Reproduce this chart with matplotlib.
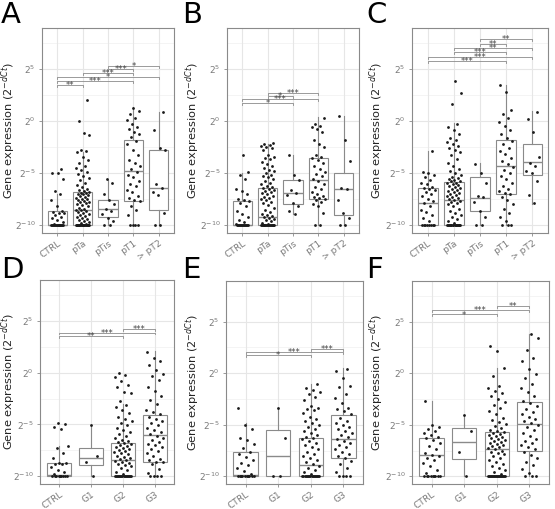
import matplotlib
matplotlib.use("Agg")
import matplotlib.pyplot as plt

# values are log2 expression (exponent of 2^-dCt)
TUMOUR_STAGES = ["CTRL", "pTa", "pTis", "pT1", "> pT2"]
GRADES = ["CTRL", "G1", "G2", "G3"]

# ---- panel A ----
A_CTRL = [-10, -10, -10, -10, -10, -10, -10, -10, -10, -10, -10, -10, -10, -10,
          -9.9, -9.7, -9.5, -9.3, -9.2, -9.0, -8.8, -8.8, -8.7, -8.6, -8.2, -7.6,
          -7.0, -6.7, -5.6, -5.0, -5.0, -4.6]
A_pTa = [-10, -10, -10, -10, -10, -10, -10, -10, -10, -10, -10, -10, -10, -10, -10,
         -10, -10, -10, -9.9, -9.8, -9.7, -9.6, -9.5, -9.4, -9.3, -9.2, -9.1, -9.0,
         -8.9, -8.8, -8.7, -8.6, -8.5, -8.5, -8.4, -8.3, -8.2, -8.1, -8.0, -7.9, -7.8,
         -7.8, -7.7, -7.6, -7.5, -7.5, -7.4, -7.3, -7.2, -7.1, -7.0, -7.0, -6.9, -6.9,
         -6.8, -6.7, -6.6, -6.5, -6.3, -6.1, -5.9, -5.7, -5.5, -5.3, -5.1, -4.9, -4.7,
         -4.5, -4.3, -4.0, -3.7, -3.4, -3.0, -2.9, -2.8, -1.3, -1.1, 0.0, 2.0]
A_pTis = [-10, -10, -9.6, -9.3, -8.9, -8.6, -8.4, -8.0, -7.6, -7.0, -5.9, -5.6]
A_pT1 = [-10, -10, -10, -10, -9.0, -8.5, -8.2, -7.7, -7.6, -7.4, -7.2, -6.8, -6.6,
         -6.2, -6.0, -5.8, -5.4, -5.2, -4.9, -4.6, -4.3, -4.0, -3.7, -3.3, -2.8, -2.2,
         -1.9, -1.5, -1.2, -1.0, -0.8, -0.6, -0.3, 0.1, 0.3, 0.7, 1.0, 1.3]
A_pT2 = [-10, -10, -8.8, -7.1, -6.8, -6.4, -6.0, -2.8, -2.6, -0.9, 0.9]
A_Q1 = [-10, -10, -9.2, -7.64, -8.5]
A_MED = [-9.95, -8.57, -8.44, -4.84, -6.43]
A_Q3 = [-8.66, -6.85, -7.55, -1.82, -2.77]
A_LO = [-10, -10, -10, -10, -10]
A_HI = [-7.0, -2.93, -5.64, 1.37, 0.9]
A_SIG = [(1, 2, 3.48, "**"), (1, 4, 3.89, "***"), (1, 5, 4.21, "*"),
         (2, 4, 4.59, "***"), (3, 4, 4.97, "***"), (3, 5, 5.31, "*")]

# ---- panel B ----
B_CTRL = [-10, -10, -10, -10, -10, -10, -10, -10, -10, -10, -10, -10, -9.9, -9.7,
          -9.5, -9.2, -8.9, -8.6, -8.2, -7.9, -7.7, -7.6, -7.5, -7.0, -6.7, -6.5,
          -5.6, -5.2, -4.9, -3.3]
B_pTa = [-10, -10, -10, -10, -10, -10, -10, -10, -10, -10, -10, -10, -10, -10, -10,
         -10, -9.9, -9.8, -9.6, -9.5, -9.4, -9.3, -9.2, -9.1, -9.0, -8.9, -8.7, -8.5,
         -8.3, -8.1, -7.9, -7.8, -7.6, -7.5, -7.4, -7.3, -7.2, -7.0, -6.9, -6.8, -6.7,
         -6.6, -6.5, -6.4, -6.3, -6.2, -6.0, -5.9, -5.8, -5.6, -5.4, -5.3, -5.2, -5.0,
         -4.8, -4.7, -4.5, -4.3, -4.1, -3.9, -3.6, -3.5, -3.4, -3.3, -2.8, -2.6, -2.5,
         -2.4, -2.3, -2.2, -2.1]
B_pTis = [-8.9, -8.6, -8.2, -7.9, -7.1, -6.9, -6.6, -5.7, -5.2, -3.3]
B_pT1 = [-10, -10, -8.8, -8.2, -8.0, -7.8, -7.6, -7.5, -7.4, -7.3, -7.2, -7.0, -6.8,
         -6.5, -6.3, -6.0, -5.8, -5.6, -5.3, -5.1, -4.9, -4.6, -4.3, -4.0, -3.7, -3.5,
         -3.4, -3.3, -2.5, -2.2, -1.8, -1.0, -0.8, -0.6, -0.5, -0.3, 0.3]
B_pT2 = [-10, -10, -9.3, -8.8, -7.6, -6.5, -6.4, -3.8, -1.8, 0.5]
B_Q1 = [-10, -10, -7.98, -7.53, -9.04]
B_MED = [-9.94, -9.26, -6.89, -5.67, -6.54]
B_Q3 = [-7.66, -6.38, -5.67, -3.59, -5.03]
B_LO = [-10, -10, -8.88, -10, -10]
B_HI = [-4.94, -2.15, -3.27, 0.35, 0.48]
B_SIG = [(1, 3, 1.76, "*"), (1, 4, 2.09, "***"), (2, 3, 2.40, "*"),
         (2, 4, 2.72, "***")]

# ---- panel C ----
C_CTRL = [-10, -10, -10, -10, -10, -10, -10, -10, -9.6, -9.3, -9.0, -8.7, -8.5, -8.2,
          -7.9, -7.7, -7.5, -7.2, -7.0, -6.8, -6.6, -6.5, -6.4, -6.3, -6.0, -5.9, -5.7,
          -5.4, -5.2, -5.0, -4.9, -2.9]
C_pTa = [-10, -10, -10, -10, -10, -10, -10, -10, -10, -10, -10, -10, -10, -10, -10,
         -10, -9.8, -9.6, -9.4, -9.2, -9.0, -8.8, -8.6, -8.4, -8.2, -8.0, -7.9, -7.8,
         -7.7, -7.6, -7.5, -7.4, -7.3, -7.2, -7.1, -7.0, -6.9, -6.8, -6.7, -6.6, -6.5,
         -6.4, -6.3, -6.2, -6.1, -6.0, -5.9, -5.9, -5.8, -5.8, -5.7, -5.6, -5.5, -5.4,
         -5.2, -5.0, -4.8, -4.6, -4.3, -4.0, -3.6, -3.3, -3.0, -2.8, -2.6, -2.4, -2.2,
         -2.0, -1.8, -1.6, -1.2, -0.9, -0.6, -0.3, 1.6, 2.7, 3.9]
C_pTis = [-10, -10, -9.2, -8.6, -7.8, -7.3, -7.2, -5.9, -5.0, -4.1]
C_pT1 = [-10, -10, -10, -9.6, -9.2, -8.8, -8.4, -8.0, -7.6, -7.3, -7.0, -6.9, -6.7,
         -6.5, -6.2, -5.9, -5.6, -5.3, -5.0, -4.7, -4.4, -4.1, -3.8, -3.5, -3.2, -2.9,
         -2.6, -2.2, -1.9, -1.6, -1.2, -0.9, -0.5, -0.1, 0.3, 0.7, 1.1, 2.8, 3.5]
C_pT2 = [-7.9, -7.1, -5.8, -5.0, -4.8, -4.3, -4.0, -3.4, -1.0, 0.2, 0.9]
C_Q1 = [-10, -10, -8.65, -6.96, -5.13]
C_MED = [-7.85, -7.6, -7.34, -4.33, -3.97]
C_Q3 = [-6.38, -5.83, -5.35, -1.83, -2.15]
C_LO = [-10, -10, -10, -10, -7.92]
C_HI = [-2.85, -0.22, -4.07, 3.46, 0.99]
C_SIG = [(1, 4, 5.77, "***"), (1, 5, 6.19, "***"), (2, 4, 6.60, "***"),
         (2, 5, 7.02, "**"), (3, 4, 7.44, "**"), (3, 5, 7.85, "**")]

# ---- panel D ----
D_CTRL = [-10, -10, -10, -10, -10, -10, -10, -10, -10, -9.8, -9.6, -9.4, -9.1, -8.8,
          -8.8, -8.7, -8.7, -8.2, -7.8, -7.3, -7.1, -5.4, -5.2, -5.0, -4.9]
D_G1 = [-10, -8.6, -8.0, -5.1]
D_G2 = [-10, -10, -10, -10, -10, -10, -10, -10, -10, -10, -10, -10, -10, -10, -10,
        -10, -9.8, -9.6, -9.4, -9.2, -9.0, -8.9, -8.8, -8.7, -8.6, -8.5, -8.4, -8.3,
        -8.2, -8.1, -8.0, -7.9, -7.8, -7.7, -7.6, -7.5, -7.4, -7.3, -7.2, -7.1, -7.0,
        -6.9, -6.8, -6.7, -6.6, -6.5, -6.3, -6.1, -5.9, -5.7, -5.5, -5.3, -5.1, -4.9,
        -4.7, -4.5, -4.3, -3.9, -3.6, -3.3, -3.1, -2.7, -2.0, -1.9, -1.4, -1.2, -0.8,
        -0.4, -0.2, 0.0]
D_G3 = [-10, -10, -10, -10, -9.7, -9.3, -8.8, -8.6, -8.6, -8.4, -8.3, -8.0, -7.8,
        -7.6, -7.4, -7.2, -7.0, -6.9, -6.7, -6.5, -6.3, -6.1, -5.9, -5.7, -5.5, -5.3,
        -5.1, -4.9, -4.7, -4.5, -4.3, -4.0, -3.8, -3.6, -3.0, -2.6, -2.3, -1.8, -1.4,
        -0.7, -0.3, -0.1, 0.3, 0.7, 1.1, 1.4, 2.0]
D_Q1 = [-10, -8.94, -10, -8.62]
D_MED = [-9.9, -8.24, -8.46, -6.06]
D_Q3 = [-8.72, -7.24, -6.8, -4.13]
D_LO = [-10, -10, -10, -10]
D_HI = [-7.12, -5.1, -3.01, 2.05]
D_SIG = [(1, 3, 3.53, "**"), (1, 4, 3.88, "***"), (3, 4, 4.23, "***")]

# ---- panel E ----
E_CTRL = [-10, -10, -10, -10, -10, -10, -10, -10, -10, -10, -9.8, -9.5, -9.2, -8.9,
          -8.7, -8.4, -8.1, -7.8, -7.6, -7.3, -6.9, -6.5, -6.3, -5.4, -5.0, -3.4]
E_G1 = [-10, -10, -6.3, -3.4]
E_G2 = [-10, -10, -10, -10, -10, -10, -10, -10, -10, -10, -10, -10, -10, -10, -10,
        -10, -9.8, -9.6, -9.4, -9.2, -9.0, -8.8, -8.6, -8.4, -8.2, -8.0, -7.8, -7.6,
        -7.4, -7.2, -7.0, -6.8, -6.6, -6.4, -6.3, -6.2, -6.0, -5.8, -5.6, -5.4, -5.2,
        -5.0, -4.8, -4.6, -4.4, -4.2, -3.9, -3.6, -3.5, -3.4, -3.2, -2.6, -2.3, -2.0,
        -1.8, -1.6, -1.4, -1.0]
E_G3 = [-10, -10, -10, -10, -9.6, -9.2, -8.8, -8.5, -8.2, -8.0, -7.8, -7.6, -7.4,
        -7.2, -7.0, -6.8, -6.6, -6.4, -6.2, -6.0, -5.8, -5.6, -5.4, -5.2, -5.0, -4.8,
        -4.6, -4.3, -4.0, -3.7, -3.5, -3.4, -2.9, -2.4, -2.0, -1.3, -1.2, -0.5, 0.2,
        0.4]
E_Q1 = [-10, -10, -10, -8.21]
E_MED = [-9.9, -8.02, -8.95, -6.39]
E_Q3 = [-7.67, -5.5, -6.33, -4.09]
E_LO = [-10, -10, -10, -10]
E_HI = [-4.86, -3.42, -1.05, 0.48]
E_SIG = [(1, 3, 1.74, "*"), (1, 4, 2.09, "***"), (3, 4, 2.38, "***")]

# ---- panel F ----
F_CTRL = [-10, -10, -10, -10, -10, -10, -10, -10, -10, -9.7, -9.4, -9.0, -8.7, -8.4,
          -8.2, -8.0, -7.9, -7.7, -7.4, -7.1, -6.8, -6.5, -6.3, -6.2, -6.0, -5.8, -5.6,
          -5.4, -5.2, -5.0, -2.7]
F_G1 = [-10, -7.6, -5.6, -4.1]
F_G2 = [-10, -10, -10, -10, -10, -10, -10, -10, -10, -10, -10, -10, -10, -10, -10,
        -10, -10, -10, -9.8, -9.6, -9.4, -9.2, -9.0, -8.8, -8.6, -8.4, -8.2, -8.0,
        -7.8, -7.7, -7.6, -7.5, -7.4, -7.3, -7.2, -7.1, -7.0, -6.9, -6.8, -6.7, -6.6,
        -6.5, -6.4, -6.3, -6.2, -6.1, -6.0, -5.9, -5.8, -5.7, -5.6, -5.5, -5.3, -5.1,
        -4.9, -4.7, -4.5, -4.3, -4.0, -3.7, -3.4, -3.1, -2.8, -2.5, -2.2, -1.9, -1.7,
        -1.4, -1.2, -0.3, 0.5, 2.2, 2.6]
F_G3 = [-10, -10, -10, -9.7, -9.3, -8.9, -8.6, -8.2, -7.9, -7.6, -7.4, -7.2, -7.0,
        -6.8, -6.6, -6.4, -6.1, -5.8, -5.5, -5.2, -5.0, -4.8, -4.6, -4.4, -4.2, -4.0,
        -3.8, -3.5, -3.2, -2.9, -2.7, -2.2, -1.8, -1.4, -1.0, -0.5, -0.1, 0.4, 1.2,
        1.5, 2.3, 3.4, 3.8]
F_Q1 = [-10, -8.37, -10, -7.54]
F_MED = [-7.92, -6.71, -7.35, -4.89]
F_Q3 = [-6.33, -5.27, -5.75, -2.78]
F_LO = [-10, -10, -10, -10]
F_HI = [-2.71, -4.09, 0.48, 3.83]
F_SIG = [(1, 3, 5.70, "*"), (1, 4, 6.12, "***"), (3, 4, 6.53, "**")]

Y_TICKS = [-10, -5, 0, 5]
Y_TICK_LABELS = [r"$2^{-10}$", r"$2^{-5}$", r"$2^{0}$", r"$2^{5}$"]

GREY = "#8a8a8a"
TEXT_GREY = "#7a7a7a"

# (letter, categories, points, q1, med, q3, lo, hi, sig,
#  axes rect in px, ylabel right edge x in px, letter x in px, letter top y in px)
PANELS = [
    ("A", TUMOUR_STAGES, [A_CTRL, A_pTa, A_pTis, A_pT1, A_pT2],
     A_Q1, A_MED, A_Q3, A_LO, A_HI, A_SIG, (42, 28, 174, 233), 18, 1, 1),
    ("B", TUMOUR_STAGES, [B_CTRL, B_pTa, B_pTis, B_pT1, B_pT2],
     B_Q1, B_MED, B_Q3, B_LO, B_HI, B_SIG, (227, 28, 359, 233), 202, 182, 1),
    ("C", TUMOUR_STAGES, [C_CTRL, C_pTa, C_pTis, C_pT1, C_pT2],
     C_Q1, C_MED, C_Q3, C_LO, C_HI, C_SIG, (412, 28, 548, 233), 386, 366, 1),
    ("D", GRADES, [D_CTRL, D_G1, D_G2, D_G3],
     D_Q1, D_MED, D_Q3, D_LO, D_HI, D_SIG, (40, 280, 174, 484), 18, 1, 256),
    ("E", GRADES, [E_CTRL, E_G1, E_G2, E_G3],
     E_Q1, E_MED, E_Q3, E_LO, E_HI, E_SIG, (226, 281, 363, 484), 202, 182, 256),
    ("F", GRADES, [F_CTRL, F_G1, F_G2, F_G3],
     F_Q1, F_MED, F_Q3, F_LO, F_HI, F_SIG, (412, 281, 549, 484), 386, 366, 256),
]

W, H = 555, 509
fig = plt.figure(figsize=(W / 100, H / 100), dpi=100)
fig.patch.set_facecolor("white")

for (letter, cats, pts, q1, med, q3, lo, hi, sig,
     (x0, y0, x1, y1), ylab_x, let_x, let_y) in PANELS:
    ax = fig.add_axes([x0 / W, 1 - y1 / H, (x1 - x0) / W, (y1 - y0) / H])
    n = len(cats)
    pos = list(range(1, n + 1))

    # grid
    for y in [-7.5, -2.5, 2.5, 7.5]:
        ax.axhline(y, color="#f3f3f3", lw=0.6, zorder=0)
    for y in Y_TICKS:
        ax.axhline(y, color="#e6e6e6", lw=0.8, zorder=0)
    for x in pos:
        ax.axvline(x, color="#e6e6e6", lw=0.8, zorder=0)

    stats = [dict(q1=q1[i], med=med[i], q3=q3[i], whislo=lo[i], whishi=hi[i])
             for i in range(n)]
    ax.bxp(stats, positions=pos, widths=0.75, showfliers=False, showcaps=False,
           patch_artist=True,
           boxprops=dict(facecolor="white", edgecolor=GREY, lw=0.8),
           medianprops=dict(color=GREY, lw=1.0),
           whiskerprops=dict(color=GREY, lw=0.8), zorder=2)

    # jittered points (deterministic low-discrepancy offsets)
    for p, vals in zip(pos, pts):
        xs = [p + (((k + 1) * 0.618034) % 1 - 0.5) * 0.55 for k in range(len(vals))]
        ax.scatter(xs, vals, s=4, color="#1a1a1a", lw=0, zorder=3)

    # significance brackets
    tip = 0.18
    for i, j, y, lab in sig:
        ax.plot([i, i, j, j], [y - tip, y, y, y - tip], color=GREY, lw=0.6,
                zorder=4, clip_on=False)
        ax.text((i + j) / 2, y - 0.05, lab, ha="center", va="center",
                fontsize=6, color="#444444", zorder=5)

    ax.set_xlim(0.4, n + 0.6)
    ax.set_ylim(-10.75, 8.95)
    ax.set_yticks(Y_TICKS)
    ax.set_yticklabels(Y_TICK_LABELS, fontsize=6.5, color=TEXT_GREY)
    ax.set_xticks(pos)
    ax.set_xticklabels(cats, fontsize=6.6, color=TEXT_GREY, rotation=35,
                       ha="right", rotation_mode="anchor")
    ax.tick_params(axis="both", colors=GREY, length=2.5, width=0.6,
                   labelcolor=TEXT_GREY, pad=2)
    ax.tick_params(axis="x", pad=1.5)
    for sp in ax.spines.values():
        sp.set_color(GREY)
        sp.set_linewidth(0.8)
    ax.set_ylabel(r"Gene expression (2$^{-dCt}$)", fontsize=8.2, color="#222222")
    # label anchor is the right edge of the rotated text
    ax.yaxis.set_label_coords((ylab_x - x0) / (x1 - x0), 0.5)
    fig.text(let_x / W, 1 - let_y / H, letter, fontsize=21, color="black",
             ha="left", va="top")

fig.savefig("out.png", dpi=100, facecolor="white")
